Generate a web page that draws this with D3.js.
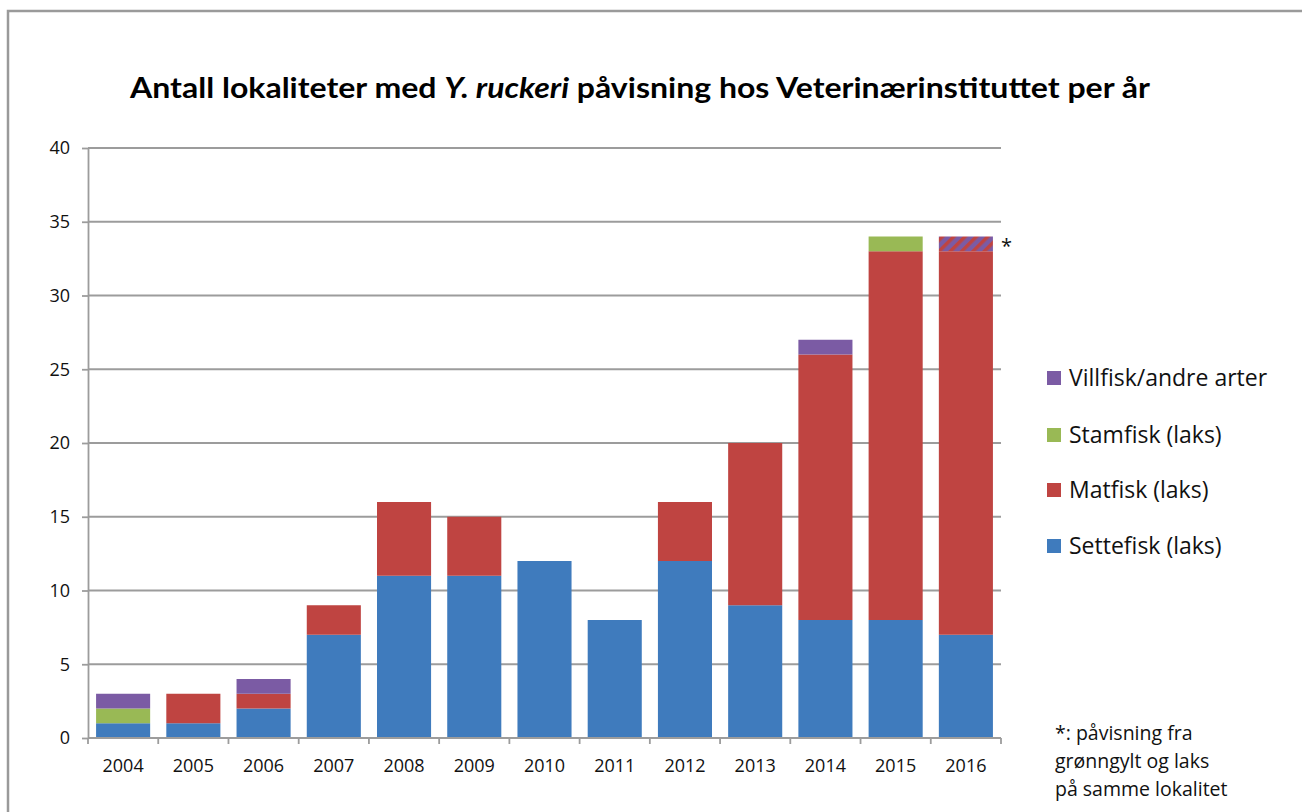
<!DOCTYPE html>
<html>
<head>
<meta charset="utf-8">
<script src="https://cdn.jsdelivr.net/npm/d3@7"></script>
<style>
  html, body { margin: 0; padding: 0; background: #ffffff; }
  svg { display: block; }
</style>
</head>
<body>
<svg id="chart" width="1302" height="812"></svg>
<script>
// Years on the x axis
const years = ["2004","2005","2006","2007","2008","2009","2010","2011","2012","2013","2014","2015","2016"];

// Number of sites per category and year (stacked bottom to top)
const settefisk = [1, 1, 2, 7, 11, 11, 12, 8, 12, 9, 8, 8, 7];
const matfisk   = [0, 2, 1, 2, 5, 4, 0, 0, 4, 11, 18, 25, 26];
const stamfisk  = [1, 0, 0, 0, 0, 0, 0, 0, 0, 0, 0, 1, 0];
const villfisk  = [1, 0, 1, 0, 0, 0, 0, 0, 0, 0, 1, 0, 0];
// Site with detection in both wrasse (grønngylt) and salmon, marked with *
const blandet   = [0, 0, 0, 0, 0, 0, 0, 0, 0, 0, 0, 0, 1];

const yTicks = [0, 5, 10, 15, 20, 25, 30, 35, 40];

const seriesDefs = [
  { key: "settefisk", name: "Settefisk (laks)",     values: settefisk, color: "#3f7bbd" },
  { key: "matfisk",   name: "Matfisk (laks)",       values: matfisk,   color: "#bf4441" },
  { key: "stamfisk",  name: "Stamfisk (laks)",      values: stamfisk,  color: "#99b955" },
  { key: "villfisk",  name: "Villfisk/andre arter", values: villfisk,  color: "#7b5ba4" },
  { key: "blandet",   name: "blandet",              values: blandet,   color: "url(#hatch)" }
];

const svg = d3.select("#chart");
const font = "'Open Sans', 'Noto Sans', sans-serif";
const titleFont = "Lato, 'Open Sans', sans-serif";

// Outer frame
svg.append("path")
  .attr("d", "M8,812 V11 H1302")
  .attr("fill", "none")
  .attr("stroke", "#9a9a9a")
  .attr("stroke-width", 2.5);

// Hatch pattern: purple ground with red diagonal stripes
const defs = svg.append("defs");
const pat = defs.append("pattern")
  .attr("id", "hatch")
  .attr("patternUnits", "userSpaceOnUse")
  .attr("width", 8).attr("height", 8)
  .attr("patternTransform", "rotate(45)");
pat.append("rect").attr("width", 8).attr("height", 8).attr("fill", "#7b5ba4");
pat.append("rect").attr("width", 3.5).attr("height", 8).attr("fill", "#bf4441");

const plot = { left: 88, right: 1001, top: 148, bottom: 738 };

const x = d3.scaleBand()
  .domain(years)
  .range([plot.left, plot.right])
  .paddingInner(0.23)
  .paddingOuter(0.115);

const y = d3.scaleLinear()
  .domain([0, 40])
  .range([plot.bottom, plot.top]);

// Gridlines
svg.append("g")
  .selectAll("line")
  .data(yTicks.filter(d => d > 0))
  .join("line")
  .attr("x1", plot.left).attr("x2", plot.right)
  .attr("y1", d => y(d)).attr("y2", d => y(d))
  .attr("stroke", "#9c9c9c")
  .attr("stroke-width", 1.8);

// Stacked bars
const table = years.map((yr, i) => {
  const row = { year: yr };
  seriesDefs.forEach(s => { row[s.key] = s.values[i]; });
  return row;
});
const stack = d3.stack().keys(seriesDefs.map(s => s.key));
const layers = stack(table);

svg.append("g")
  .selectAll("g")
  .data(layers)
  .join("g")
  .attr("fill", (d, i) => seriesDefs[i].color)
  .selectAll("rect")
  .data(d => d.filter(p => p[1] - p[0] > 0))
  .join("rect")
  .attr("x", d => x(d.data.year))
  .attr("width", x.bandwidth())
  .attr("y", d => y(d[1]))
  .attr("height", d => y(d[0]) - y(d[1]));

// Y axis
const yAxis = svg.append("g")
  .attr("transform", `translate(${plot.left},0)`)
  .call(d3.axisLeft(y).tickValues(yTicks).tickSize(6).tickPadding(12).tickSizeOuter(0));
yAxis.select(".domain").attr("stroke", "#9c9c9c").attr("stroke-width", 1.8);
yAxis.selectAll(".tick line").attr("stroke", "#9c9c9c").attr("stroke-width", 1.8);
yAxis.selectAll(".tick text")
  .attr("font-family", font).attr("font-size", 18).attr("fill", "#111");

// X axis with tick marks at category boundaries
const xAxisG = svg.append("g");
xAxisG.append("line")
  .attr("x1", plot.left).attr("x2", plot.right)
  .attr("y1", plot.bottom).attr("y2", plot.bottom)
  .attr("stroke", "#9c9c9c").attr("stroke-width", 1.8);
const bounds = years.map(yr => x(yr) - x.step() * x.paddingInner() / 2).concat([plot.right]);
xAxisG.selectAll("line.tick")
  .data(bounds)
  .join("line")
  .attr("class", "tick")
  .attr("x1", d => d).attr("x2", d => d)
  .attr("y1", plot.bottom).attr("y2", plot.bottom + 6)
  .attr("stroke", "#9c9c9c").attr("stroke-width", 1.8);
xAxisG.selectAll("text")
  .data(years)
  .join("text")
  .attr("x", d => x(d) + x.bandwidth() / 2)
  .attr("y", 766)
  .attr("dy", "0.35em")
  .attr("text-anchor", "middle")
  .attr("font-family", font).attr("font-size", 18).attr("fill", "#111")
  .text(d => d);

// Asterisk beside the hatched segment
svg.append("text")
  .attr("x", x("2016") + x.bandwidth() + 8)
  .attr("y", y(34) + 16)
  .attr("font-family", font).attr("font-size", 20).attr("fill", "#111")
  .text("*");

// Title with italic species name
const title = svg.append("text")
  .attr("x", 640)
  .attr("y", 98)
  .attr("text-anchor", "middle")
  .attr("font-family", titleFont)
  .attr("font-weight", 700)
  .attr("font-size", 28)
  .attr("fill", "#000");
title.append("tspan").text("Antall lokaliteter med ");
title.append("tspan").attr("font-style", "italic").text("Y. ruckeri");
title.append("tspan").text(" påvisning hos Veterinærinstituttet per år");
// Narrow the title to the width of the condensed original face
const tw = title.node().getComputedTextLength();
const targetW = 1020;
const sx = targetW / tw;
title.attr("transform", `translate(${640 * (1 - sx)},0) scale(${sx},1)`);

// Legend
const legendItems = [
  { name: "Villfisk/andre arter", color: "#7b5ba4", y: 378 },
  { name: "Stamfisk (laks)",      color: "#99b955", y: 435 },
  { name: "Matfisk (laks)",       color: "#bf4441", y: 490 },
  { name: "Settefisk (laks)",     color: "#3f7bbd", y: 546 }
];
const lg = svg.append("g")
  .selectAll("g")
  .data(legendItems)
  .join("g")
  .attr("transform", d => `translate(1047,${d.y})`);
lg.append("rect")
  .attr("x", 0).attr("y", -7).attr("width", 14).attr("height", 14)
  .attr("fill", d => d.color);
lg.append("text")
  .attr("x", 22).attr("y", 0).attr("dy", "0.35em")
  .attr("font-family", font).attr("font-size", 23).attr("fill", "#111")
  .text(d => d.name);

// Footnote
const notes = ["*: påvisning fra", "grønngylt og laks", "på samme lokalitet"];
svg.append("g")
  .selectAll("text")
  .data(notes)
  .join("text")
  .attr("x", 1055)
  .attr("y", (d, i) => 733 + i * 28)
  .attr("dy", "0.35em")
  .attr("font-family", font).attr("font-size", 19.5).attr("fill", "#111")
  .text(d => d);
</script>
</body>
</html>
